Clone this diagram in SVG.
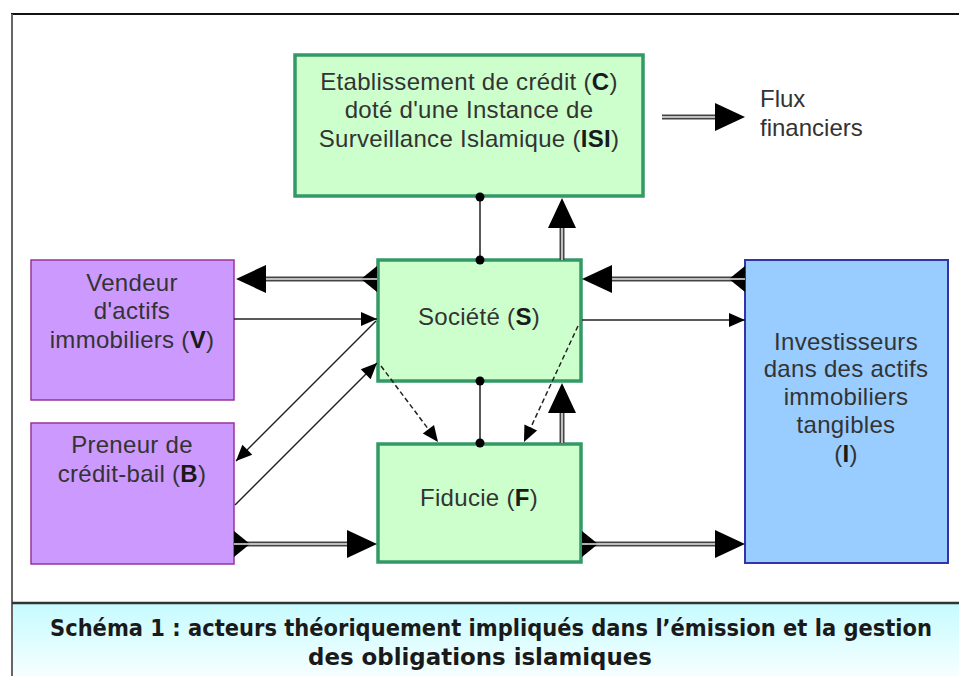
<svg xmlns="http://www.w3.org/2000/svg" width="959" height="676" viewBox="0 0 959 676">
<style>
.box-g{fill:#ccffcc;stroke:#339966;stroke-width:3.5}
.box-v{fill:#cc99ff;stroke:#993399;stroke-width:1.5}
.box-i{fill:#99ccff;stroke:#3333aa;stroke-width:2}
.t{font-family:"Liberation Sans",Arial,sans-serif;font-size:24px;fill:#333;text-anchor:middle;letter-spacing:0.3px}
.t .b{font-weight:bold;fill:#1a1a1a}
.dbl-out{fill:none;stroke:#444;stroke-width:5}
.dbl-in{fill:none;stroke:#e8e8e8;stroke-width:1.5}
.thin{fill:none;stroke:#222;stroke-width:1.5}
.dash{fill:none;stroke:#222;stroke-width:1.5;stroke-dasharray:5 3}
.dot{fill:#000}
.cap{font-family:"DejaVu Sans Condensed","DejaVu Sans",sans-serif;font-weight:bold;font-size:23px;fill:#1a1a1a;text-anchor:middle}
</style>
<defs>
<marker id="head" markerUnits="userSpaceOnUse" viewBox="0 -15 31 30" refX="0" refY="0" markerWidth="31" markerHeight="30" orient="auto" overflow="visible">
<path d="M0,-14 L30,0 L0,14 z" fill="#000"/>
</marker>
<marker id="tail" markerUnits="userSpaceOnUse" viewBox="0 -14 17 28" refX="0" refY="0" markerWidth="17" markerHeight="28" orient="auto" overflow="visible">
<path d="M0,-13 L16,0 L0,13 z" fill="#000"/>
</marker>
<marker id="thinhead" markerUnits="userSpaceOnUse" viewBox="0 -8 17 16" refX="16" refY="0" markerWidth="17" markerHeight="16" orient="auto" overflow="visible">
<path d="M0,-7 L16,0 L0,7 z" fill="#000"/>
</marker>
<linearGradient id="capbg" x1="0" y1="0" x2="0" y2="1">
<stop offset="0" stop-color="#c6fbff"/>
<stop offset="1" stop-color="#f6ffff"/>
</linearGradient>
</defs>

<rect x="0" y="0" width="959" height="676" fill="#ffffff"/>
<g id="frame">
<rect x="12" y="604" width="947" height="72" fill="url(#capbg)"/>
<line x1="11" y1="14" x2="959" y2="14" stroke="#111" stroke-width="2"/>
<line x1="12" y1="14" x2="12" y2="676" stroke="#666" stroke-width="2"/>
<line x1="12" y1="603" x2="959" y2="603" stroke="#333" stroke-width="2.5"/>
</g>

<g id="node-C">
<rect class="box-g" x="295" y="55" width="348" height="141"/>
<text class="t" x="469" y="90">Etablissement de crédit (<tspan class="b">C</tspan>)</text>
<text class="t" x="469" y="118">doté d'une Instance de</text>
<text class="t" x="469" y="147">Surveillance Islamique (<tspan class="b">ISI</tspan>)</text>
</g>

<g id="node-S">
<rect class="box-g" x="378" y="260" width="203" height="121"/>
<text class="t" x="479" y="325">Société (<tspan class="b">S</tspan>)</text>
</g>

<g id="node-F">
<rect class="box-g" x="378" y="444" width="203" height="118"/>
<text class="t" x="479" y="506">Fiducie (<tspan class="b">F</tspan>)</text>
</g>

<g id="node-V">
<rect class="box-v" x="31" y="260" width="203" height="140"/>
<text class="t" x="132" y="291">Vendeur</text>
<text class="t" x="132" y="319">d'actifs</text>
<text class="t" x="132" y="348">immobiliers (<tspan class="b">V</tspan>)</text>
</g>

<g id="node-B">
<rect class="box-v" x="31" y="423" width="203" height="141"/>
<text class="t" x="132" y="453">Preneur de</text>
<text class="t" x="132" y="482">crédit-bail (<tspan class="b">B</tspan>)</text>
</g>

<g id="node-I">
<rect class="box-i" x="745" y="260" width="203" height="303"/>
<text class="t" x="846" y="350">Investisseurs</text>
<text class="t" x="846" y="377">dans des actifs</text>
<text class="t" x="846" y="405">immobiliers</text>
<text class="t" x="846" y="433">tangibles</text>
<text class="t" x="846" y="462">(<tspan class="b">I</tspan>)</text>
</g>

<g id="connectors">
<!-- C - S link -->
<line class="thin" x1="480" y1="197" x2="480" y2="260"/>
<circle class="dot" cx="480" cy="197" r="4.5"/>
<circle class="dot" cx="480" cy="260" r="4.5"/>
<!-- S - F link -->
<line class="thin" x1="480" y1="381" x2="480" y2="443"/>
<circle class="dot" cx="480" cy="381" r="4.5"/>
<circle class="dot" cx="480" cy="443" r="4.5"/>

<!-- double flux arrows -->
<path class="dbl-out" d="M745,279 H612" marker-start="url(#tail)" marker-end="url(#head)"/>
<path class="dbl-in" d="M745,279 H612"/>
<path class="dbl-out" d="M377,279 H266" marker-start="url(#tail)" marker-end="url(#head)"/>
<path class="dbl-in" d="M377,279 H266"/>
<path class="dbl-out" d="M234,544 H347" marker-start="url(#tail)" marker-end="url(#head)"/>
<path class="dbl-in" d="M234,544 H347"/>
<path class="dbl-out" d="M582,544 H715" marker-start="url(#tail)" marker-end="url(#head)"/>
<path class="dbl-in" d="M582,544 H715"/>
<path class="dbl-out" d="M562,260 V228" marker-end="url(#head)"/>
<path class="dbl-in" d="M562,260 V228"/>
<path class="dbl-out" d="M562,443 V413" marker-end="url(#head)"/>
<path class="dbl-in" d="M562,443 V413"/>

<!-- thin arrows -->
<path class="thin" d="M234,319 H377" marker-end="url(#thinhead)"/>
<path class="thin" d="M582,320 H745" marker-end="url(#thinhead)"/>
<path class="thin" d="M376,321 L236,461" marker-end="url(#thinhead)"/>
<path class="thin" d="M235,505 L377,363" marker-end="url(#thinhead)"/>

<!-- dashed arrows -->
<path class="dash" d="M381,366 L438,442" marker-end="url(#thinhead)"/>
<path class="dash" d="M578,326 L524,442" marker-end="url(#thinhead)"/>
</g>

<g id="legend">
<path class="dbl-out" d="M662,117 H715" marker-end="url(#head)"/>
<path class="dbl-in" d="M662,117 H715"/>
<text x="760" y="107" style="font-family:'Liberation Sans',Arial,sans-serif;font-size:24px;fill:#333">Flux</text>
<text x="760" y="136" style="font-family:'Liberation Sans',Arial,sans-serif;font-size:24px;fill:#333">financiers</text>
</g>

<g id="caption">
<text class="cap" x="491" y="636" textLength="882" lengthAdjust="spacingAndGlyphs">Schéma 1 : acteurs théoriquement impliqués dans l’émission et la gestion</text>
<text class="cap" x="480" y="665" textLength="344" lengthAdjust="spacingAndGlyphs">des obligations islamiques</text>
</g>
</svg>
